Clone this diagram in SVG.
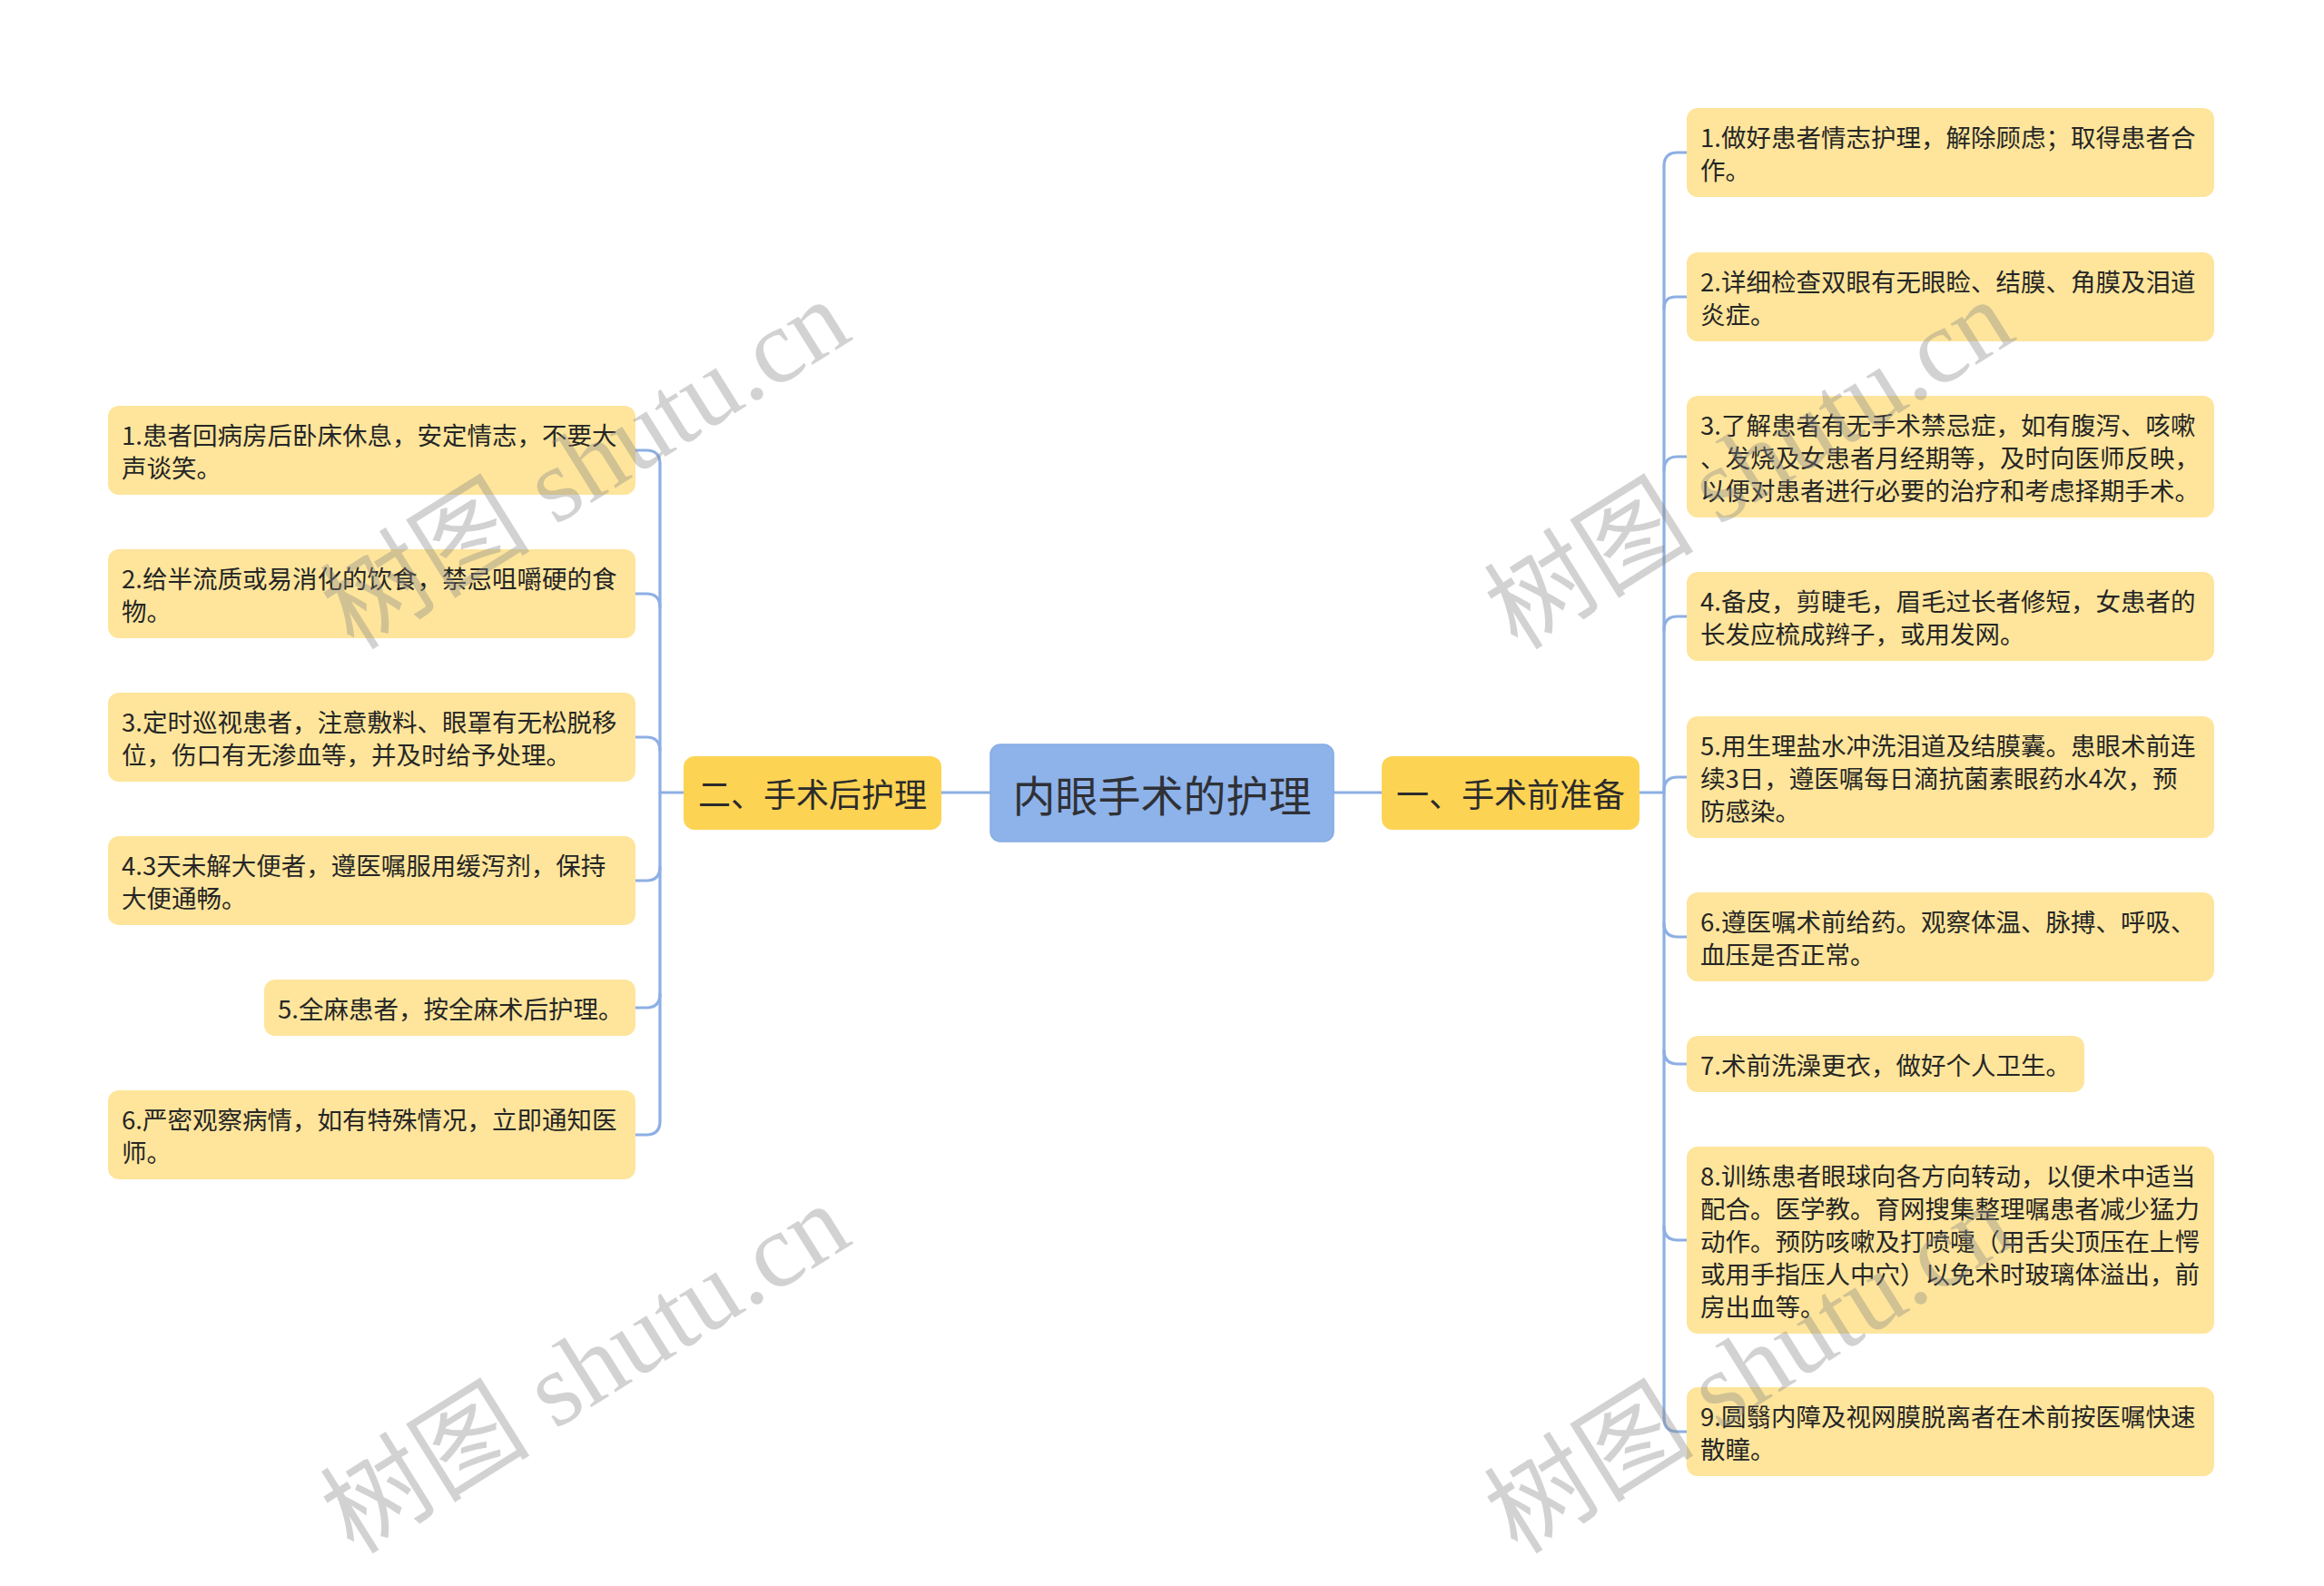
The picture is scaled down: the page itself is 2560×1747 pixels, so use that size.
<svg xmlns="http://www.w3.org/2000/svg" width="2560" height="1747" viewBox="0 0 2560 1747">
<style>
.bg{fill:#ffffff}
.link{fill:none;stroke:#8DAFE4;stroke-width:3.2;stroke-linecap:round}
.root rect{fill:#8EB3EA;stroke:#86ABE3;stroke-width:1.5}
.root text{font-family:"Noto Sans CJK SC","Noto Sans",sans-serif;font-size:47px;fill:#2F3136;text-anchor:middle;dominant-baseline:central}
.branch rect{fill:#FDD353}
.branch text{font-family:"Noto Sans CJK SC","Noto Sans",sans-serif;font-size:36px;fill:#2B2B2B;text-anchor:middle;dominant-baseline:central}
.leaf rect{fill:#FEE59B}
.leaf text{font-family:"Noto Sans CJK SC","Noto Sans",sans-serif;font-size:27.5px;fill:#262626;dominant-baseline:central}
.wm{font-family:"Liberation Serif","Noto Sans CJK SC",serif;font-size:116px;fill:#8a8a8a;fill-opacity:0.38;text-anchor:middle;dominant-baseline:central}
</style>
<rect class="bg" x="0" y="0" width="2560" height="1747"/>

<g id="connectors">
  <path class="link" d="M1037 873 H1091"/>
  <path class="link" d="M1469 873 H1522"/>
  <!-- right side -->
  <path class="link" d="M1806 873 H1833 V183 Q1833 168 1848 168 H1858"/>
  <path class="link" d="M1833 340 Q1833 327 1846 327 H1858"/>
  <path class="link" d="M1833 518 Q1833 503 1848 503 H1858"/>
  <path class="link" d="M1833 694 Q1833 679 1848 679 H1858"/>
  <path class="link" d="M1833 871 Q1833 856 1848 856 H1858"/>
  <path class="link" d="M1833 873 V1017 Q1833 1032 1848 1032 H1858"/>
  <path class="link" d="M1833 1157 Q1833 1172 1848 1172 H1858"/>
  <path class="link" d="M1833 1351 Q1833 1366 1848 1366 H1858"/>
  <path class="link" d="M1833 1562 Q1833 1577 1848 1577 H1858"/>
  <path class="link" d="M1833 1017 V1562"/>
  <!-- left side -->
  <path class="link" d="M1037 873 H727 V511 Q727 496 712 496 H700"/>
  <path class="link" d="M727 669 Q727 654 712 654 H700"/>
  <path class="link" d="M727 827 Q727 812 712 812 H700"/>
  <path class="link" d="M727 873 V955 Q727 970 712 970 H700"/>
  <path class="link" d="M727 1095 Q727 1110 712 1110 H700"/>
  <path class="link" d="M727 955 V1235 Q727 1250 712 1250 H700"/>
</g>

<g id="root" class="root">
  <rect x="1091" y="820" width="378" height="107" rx="11"/>
  <text x="1280" y="873">内眼手术的护理</text>
</g>

<g id="branch-right" class="branch">
  <rect x="1522" y="833" width="284" height="81" rx="12"/>
  <text x="1664" y="873">一、手术前准备</text>
</g>
<g id="branch-left" class="branch">
  <rect x="753" y="833" width="284" height="81" rx="12"/>
  <text x="895" y="873">二、手术后护理</text>
</g>

<g id="r1" class="leaf">
  <rect x="1858" y="119" width="581" height="98" rx="12"/>
  <text x="1873" y="150">1.做好患者情志护理，解除顾虑；取得患者合</text>
  <text x="1873" y="186">作。</text>
</g>
<g id="r2" class="leaf">
  <rect x="1858" y="278" width="581" height="98" rx="12"/>
  <text x="1873" y="309">2.详细检查双眼有无眼睑、结膜、角膜及泪道</text>
  <text x="1873" y="345">炎症。</text>
</g>
<g id="r3" class="leaf">
  <rect x="1858" y="436" width="581" height="134" rx="12"/>
  <text x="1873" y="467">3.了解患者有无手术禁忌症，如有腹泻、咳嗽</text>
  <text x="1873" y="503">、发烧及女患者月经期等，及时向医师反映，</text>
  <text x="1873" y="539">以便对患者进行必要的治疗和考虑择期手术。</text>
</g>
<g id="r4" class="leaf">
  <rect x="1858" y="630" width="581" height="98" rx="12"/>
  <text x="1873" y="661">4.备皮，剪睫毛，眉毛过长者修短，女患者的</text>
  <text x="1873" y="697">长发应梳成辫子，或用发网。</text>
</g>
<g id="r5" class="leaf">
  <rect x="1858" y="789" width="581" height="134" rx="12"/>
  <text x="1873" y="820">5.用生理盐水冲洗泪道及结膜囊。患眼术前连</text>
  <text x="1873" y="856">续3日，遵医嘱每日滴抗菌素眼药水4次，预</text>
  <text x="1873" y="892">防感染。</text>
</g>
<g id="r6" class="leaf">
  <rect x="1858" y="983" width="581" height="98" rx="12"/>
  <text x="1873" y="1014">6.遵医嘱术前给药。观察体温、脉搏、呼吸、</text>
  <text x="1873" y="1050">血压是否正常。</text>
</g>
<g id="r7" class="leaf">
  <rect x="1858" y="1141" width="438" height="62" rx="12"/>
  <text x="1873" y="1172">7.术前洗澡更衣，做好个人卫生。</text>
</g>
<g id="r8" class="leaf">
  <rect x="1858" y="1263" width="581" height="206" rx="12"/>
  <text x="1873" y="1294">8.训练患者眼球向各方向转动，以便术中适当</text>
  <text x="1873" y="1330">配合。医学教。育网搜集整理嘱患者减少猛力</text>
  <text x="1873" y="1366">动作。预防咳嗽及打喷嚏（用舌尖顶压在上愕</text>
  <text x="1873" y="1402">或用手指压人中穴）以免术时玻璃体溢出，前</text>
  <text x="1873" y="1438">房出血等。</text>
</g>
<g id="r9" class="leaf">
  <rect x="1858" y="1528" width="581" height="98" rx="12"/>
  <text x="1873" y="1559">9.圆翳内障及视网膜脱离者在术前按医嘱快速</text>
  <text x="1873" y="1595">散瞳。</text>
</g>

<g id="l1" class="leaf">
  <rect x="119" y="447" width="581" height="98" rx="12"/>
  <text x="134" y="478">1.患者回病房后卧床休息，安定情志，不要大</text>
  <text x="134" y="514">声谈笑。</text>
</g>
<g id="l2" class="leaf">
  <rect x="119" y="605" width="581" height="98" rx="12"/>
  <text x="134" y="636">2.给半流质或易消化的饮食，禁忌咀嚼硬的食</text>
  <text x="134" y="672">物。</text>
</g>
<g id="l3" class="leaf">
  <rect x="119" y="763" width="581" height="98" rx="12"/>
  <text x="134" y="794">3.定时巡视患者，注意敷料、眼罩有无松脱移</text>
  <text x="134" y="830">位，伤口有无渗血等，并及时给予处理。</text>
</g>
<g id="l4" class="leaf">
  <rect x="119" y="921" width="581" height="98" rx="12"/>
  <text x="134" y="952">4.3天未解大便者，遵医嘱服用缓泻剂，保持</text>
  <text x="134" y="988">大便通畅。</text>
</g>
<g id="l5" class="leaf">
  <rect x="291" y="1079" width="409" height="62" rx="12"/>
  <text x="306" y="1110">5.全麻患者，按全麻术后护理。</text>
</g>
<g id="l6" class="leaf">
  <rect x="119" y="1201" width="581" height="98" rx="12"/>
  <text x="134" y="1232">6.严密观察病情，如有特殊情况，立即通知医</text>
  <text x="134" y="1268">师。</text>
</g>

<g id="watermarks">
  <text class="wm" transform="translate(645 512) rotate(-32)">树图 shutu.cn</text>
  <text class="wm" transform="translate(1927 512) rotate(-32)">树图 shutu.cn</text>
  <text class="wm" transform="translate(645 1508) rotate(-32)">树图 shutu.cn</text>
  <text class="wm" transform="translate(1927 1508) rotate(-32)">树图 shutu.cn</text>
</g>
</svg>
